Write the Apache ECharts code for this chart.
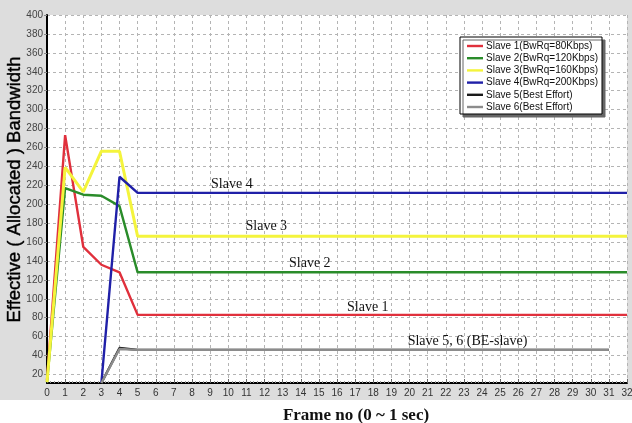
<!DOCTYPE html>
<html>
<head>
<meta charset="utf-8">
<style>
  html, body { margin: 0; padding: 0; background: #fff; }
  #chart { width: 632px; height: 423px; }
</style>
<script src="https://cdn.jsdelivr.net/npm/echarts@6/dist/echarts.min.js"></script>
</head>
<body>
<div id="chart"></div>
<script>
    // frame numbers on the x axis
    var frames = [0, 1, 2, 3, 4, 5, 6, 7, 8, 9, 10, 11, 12, 13, 14, 15, 16,
        17, 18, 19, 20, 21, 22, 23, 24, 25, 26, 27, 28, 29, 30, 31, 32];

    var seriesNames = ['Slave 1(BwRq=80Kbps)', 'Slave 2(BwRq=120Kbps)', 'Slave 3(BwRq=160Kbps)',
        'Slave 4(BwRq=200Kbps)', 'Slave 5(Best Effort)', 'Slave 6(Best Effort)'];

    // valores (uno por frame)
    var slave1 = [14, 273, 155, 136, 128, 83, 83, 83, 83, 83, 83, 83, 83, 83, 83, 83, 83,
        83, 83, 83, 83, 83, 83, 83, 83, 83, 83, 83, 83, 83, 83, 83, 83];
    var slave2 = [12, 217, 210, 209, 198, 128, 128, 128, 128, 128, 128, 128, 128, 128, 128, 128, 128,
        128, 128, 128, 128, 128, 128, 128, 128, 128, 128, 128, 128, 128, 128, 128, 128];
    var slave3 = [12, 239, 213, 256, 256, 166, 166, 166, 166, 166, 166, 166, 166, 166, 166, 166, 166,
        166, 166, 166, 166, 166, 166, 166, 166, 166, 166, 166, 166, 166, 166, 166, 166];
    var slave4 = [null, null, null, 11, 229, 212, 212, 212, 212, 212, 212, 212, 212, 212, 212, 212, 212,
        212, 212, 212, 212, 212, 212, 212, 212, 212, 212, 212, 212, 212, 212, 212, 212];
    var slave5 = [null, null, null, 11, 48, 46, 46, 46, 46, 46, 46, 46, 46, 46, 46, 46, 46,
        46, 46, 46, 46, 46, 46, 46, 46, 46, 46, 46, 46, 46, 46, 46, null];
    var slave6 = [null, null, null, 11, 47, 46, 46, 46, 46, 46, 46, 46, 46, 46, 46, 46, 46,
        46, 46, 46, 46, 46, 46, 46, 46, 46, 46, 46, 46, 46, 46, 46, null];

    // textos sobre las curvas: [frame, valor, texto]
    var notes = [
        [10.2, 221, 'Slave 4'],
        [12.1, 177, 'Slave 3'],
        [14.5, 137, 'Slave 2'],
        [17.7, 91, 'Slave 1'],
        [23.2, 55, 'Slave 5, 6 (BE-slave)']
    ];

    var colors = ['#e0303c', '#2a8c2a', '#f4f43c', '#2020a8', '#1a1a1a', '#8c8c8c'];
    var allData = [slave1, slave2, slave3, slave4, slave5, slave6];

    function pairs(values) {
        return frames.map(function (f, i) { return [f, values[i]]; });
    }

    var series = allData.map(function (vals, i) {
        return {
            name: seriesNames[i],
            type: 'line',
            data: pairs(vals),
            symbol: 'none',
            connectNulls: false,
            z: 3 + i,
            lineStyle: { color: colors[i], width: i === 2 ? 3 : 2.4 },
            itemStyle: { color: colors[i] }
        };
    });

    // etiquetas como markPoint en una serie vacia
    series.push({
        type: 'line',
        data: [],
        silent: true,
        markPoint: {
            symbol: 'circle',
            symbolSize: 0,
            label: {
                show: true,
                position: 'inside',
                fontFamily: 'Liberation Serif',
                fontSize: 14,
                color: '#111'
            },
            data: notes.map(function (n) {
                return { coord: [n[0], n[1]], value: n[2], label: { formatter: n[2] } };
            })
        }
    });

    var chart = echarts.init(document.getElementById('chart'), null, { renderer: 'canvas' });
    chart.setOption({
        backgroundColor: '#ffffff',
        animation: false,
        color: colors,
        graphic: [{
            type: 'rect',
            z: -10,
            shape: { x: 0, y: 0, width: 632, height: 400 },
            style: { fill: '#dddddd' }
        }],
        grid: {
            left: 47, right: 5, top: 15, bottom: 40,
            outerBoundsMode: 'none',
            containLabel: false,
            show: true,
            backgroundColor: '#ffffff',
            borderWidth: 0
        },
        legend: {
            data: seriesNames,
            orient: 'vertical',
            left: 460,
            top: 37,
            padding: [4, 4, 2, 7],
            icon: 'path://M0 0H20V3H0Z',
            itemWidth: 16,
            itemHeight: 10,
            itemGap: 2.2,
            backgroundColor: '#ffffff',
            borderColor: '#000',
            borderWidth: 1,
            shadowColor: '#666',
            shadowOffsetX: 3,
            shadowOffsetY: 3,
            shadowBlur: 0,
            textStyle: { fontFamily: 'Liberation Sans', fontSize: 10, color: '#111', padding: [0, 0, 0, -2] }
        },
        xAxis: {
            type: 'value',
            min: 0,
            max: 32,
            interval: 1,
            name: 'Frame no (0 ~ 1 sec)',
            nameLocation: 'middle',
            nameGap: 24,
            nameMoveOverlap: false,
            nameTextStyle: {
                fontFamily: 'Liberation Serif', fontWeight: 'bold', fontSize: 17, color: '#111',
                padding: [0, 0, 0, 38]
            },
            axisLine: { show: true, onZero: false, lineStyle: { color: '#000', width: 2 } },
            axisTick: { show: true, inside: true, length: 4, lineStyle: { color: '#666' } },
            minorTick: { show: true, splitNumber: 5, length: 2, lineStyle: { color: '#999' } },
            axisLabel: { fontFamily: 'Liberation Sans', fontSize: 10, color: '#333', margin: 5 },
            splitLine: { show: true, lineStyle: { color: '#b4b4b4', type: [3, 3], width: 1 } }
        },
        yAxis: {
            type: 'value',
            min: 11,
            max: 400,
            splitNumber: 19,
            name: 'Effective ( Allocated ) Bandwidth',
            nameLocation: 'middle',
            nameGap: 23,
            nameMoveOverlap: false,
            nameTextStyle: {
                fontFamily: 'Liberation Sans', fontSize: 18.5, color: '#000',
                textBorderColor: '#000', textBorderWidth: 0.4,
                padding: [0, 0, 0, 19]
            },
            axisLine: { show: true, onZero: false, lineStyle: { color: '#000', width: 2 } },
            axisTick: { show: true, length: 3, lineStyle: { color: '#888' } },
            axisLabel: {
                fontFamily: 'Liberation Sans', fontSize: 10, color: '#444', margin: 4,
                showMinLabel: false,
                formatter: function (v) { return v % 20 === 0 ? v : ''; }
            },
            splitLine: { show: true, lineStyle: { color: '#b4b4b4', type: [3, 3], width: 1 } }
        },
        series: series
    });
</script>
</body>
</html>
